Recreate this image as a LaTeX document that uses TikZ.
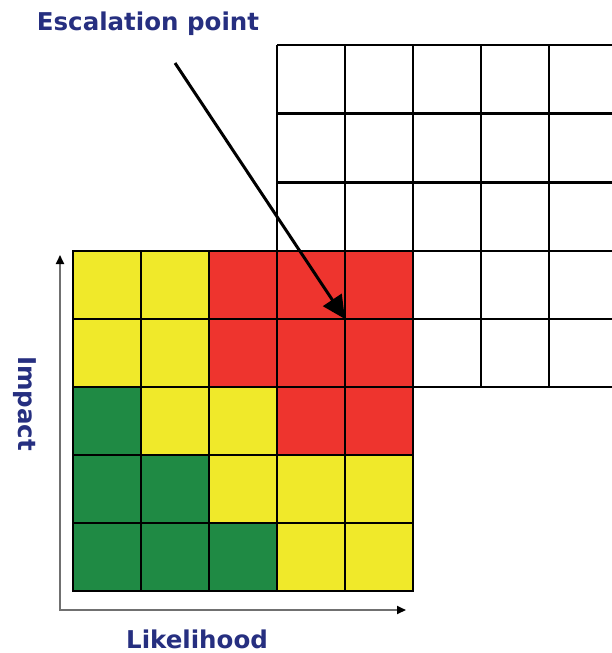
\documentclass[tikz,border=0pt]{standalone}
\usepackage{fontspec}
\setmainfont{DejaVu Sans}
\usetikzlibrary{arrows.meta}
\definecolor{ry}{HTML}{F0E92A}
\definecolor{rr}{HTML}{EE342E}
\definecolor{rg}{HTML}{1F8A44}
\definecolor{lbl}{HTML}{262F80}
\definecolor{axis}{HTML}{707070}
\begin{document}
\begin{tikzpicture}[x=1pt,y=-1pt,
  gridline/.style={draw=black,line width=2.6pt},
  label/.style={text=lbl,font=\bfseries\fontsize{24.5}{28}\selectfont,inner sep=0pt,anchor=base},
  axisline/.style={draw=axis,line width=2pt,-{Triangle[length=9pt,width=8pt,fill=black,color=black]}},
  pointer/.style={draw=black,line width=3pt,-{Triangle[length=23pt,width=22pt]}}]
\useasboundingbox (0,0) rectangle (611,653);
% white grid
\foreach \x in {277,345,413,481,549} \draw[gridline] (\x,45) -- (\x,387);
\foreach \y in {45,113.7,182.3,251,319,387} \draw[gridline] (277,\y) -- (612,\y);
% coloured grid
\foreach [count=\r from 0] \row in {{ry,ry,rr,rr,rr},{ry,ry,rr,rr,rr},{rg,ry,ry,rr,rr},{rg,rg,ry,ry,ry},{rg,rg,rg,ry,ry}} {
  \foreach [count=\c from 0] \col in \row {
    \fill[\col] ({73+68*\c},{251+68*\r}) rectangle ++(68,68);
  }
}
\foreach \k in {0,...,5} {
  \draw[gridline] ({73+68*\k},251) -- ({73+68*\k},591);
  \draw[gridline] (73,{251+68*\k}) -- (413,{251+68*\k});
}
\draw[gridline] (73,251) rectangle (413,591);
% axes
\coordinate (origin) at (60,611);
\coordinate (ytip) at (60,255);
\coordinate (xtip) at (406,610);
\draw[axisline] (origin) -- (ytip);
\draw[axisline] (60,610) -- (xtip);
% labels
\node[label] (title) at (148,30) {Escalation point};
\node[label,text depth=0pt] (likelihood) at (197,648) {Likelihood};
\node[label,rotate=-90] (impact) at (18,403.5) {Impact};
% pointer
\coordinate (pstart) at (175,63);
\coordinate (ppoint) at (345,319);
\draw[pointer] (pstart) -- (ppoint);
\end{tikzpicture}
\end{document}
